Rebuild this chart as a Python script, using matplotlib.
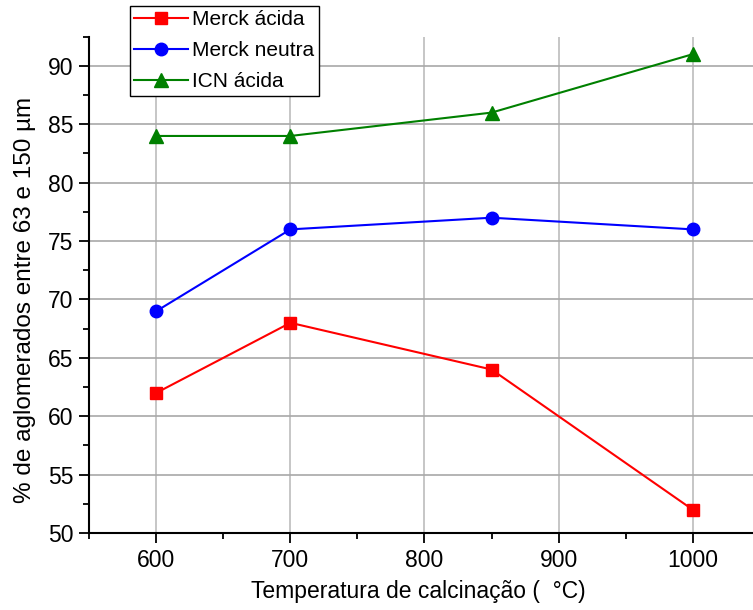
import matplotlib
matplotlib.use("Agg")
import matplotlib.pyplot as plt
from matplotlib.ticker import MultipleLocator

# ---------- data ----------
temperaturas = [600, 700, 850, 1000]
merck_acida = [62, 68, 64, 52]
merck_neutra = [69, 76, 77, 76]
icn_acida = [84, 84, 86, 91]

series_labels = ["Merck ácida", "Merck neutra", "ICN ácida"]
x_label = "Temperatura de calcinação (  °C)"
y_label = "% de aglomerados entre 63 e 150 µm"
# --------------------------

plt.rcParams["font.family"] = ["Liberation Sans", "DejaVu Sans"]

W, H = 753, 610
fig = plt.figure(figsize=(W / 100, H / 100), dpi=100)
ax = fig.add_axes([89.3 / W, 1 - 533 / H, (759.7 - 89.3) / W, (533 - 36.7) / H])

ax.plot(temperaturas, merck_acida, color="#ff0000", marker="s", ms=8.5, lw=1.5,
        label=series_labels[0], zorder=3)
ax.plot(temperaturas, merck_neutra, color="#0000ff", marker="o", ms=9, lw=1.5,
        label=series_labels[1], zorder=3)
ax.plot(temperaturas, icn_acida, color="#008000", marker="^", ms=10, lw=1.5,
        label=series_labels[2], zorder=3)

ax.set_xlim(550, 1050)
ax.set_ylim(50, 92.5)
ax.xaxis.set_major_locator(MultipleLocator(100))
ax.xaxis.set_minor_locator(MultipleLocator(50))
ax.yaxis.set_major_locator(MultipleLocator(5))
ax.yaxis.set_minor_locator(MultipleLocator(2.5))

ax.grid(True, which="major", axis="x", color="#bcbcbc", lw=1.2)
ax.grid(True, which="major", axis="y", color="#a8a8a8", lw=1.2)
ax.set_axisbelow(True)

for s in ["top", "right"]:
    ax.spines[s].set_visible(False)
for s in ["left", "bottom"]:
    ax.spines[s].set_linewidth(1.5)
    ax.spines[s].set_zorder(4)

ax.tick_params(which="major", direction="out", length=7.5, width=1.3,
               labelsize=16.5, pad=4)
ax.tick_params(which="minor", direction="out", length=4.5, width=1.3)

ax.set_xlabel(x_label, fontsize=16.5)
ax.xaxis.set_label_coords((418 - 89.3) / (759.7 - 89.3), (533 - 580) / (533 - 36.7))
ax.set_ylabel(y_label, fontsize=17.5)
ax.yaxis.set_label_coords((36 - 89.3) / (759.7 - 89.3), (533 - 300) / (533 - 36.7))

leg = fig.legend(loc="upper left", bbox_to_anchor=(130 / W, 1 - 6 / H),
                 borderaxespad=0, fontsize=15, handlelength=2.6,
                 handletextpad=0.2, borderpad=0.2, labelspacing=0.58,
                 fancybox=False, framealpha=1, edgecolor="black")
leg.get_frame().set_linewidth(1.0)

fig.savefig("out.png", dpi=100)
